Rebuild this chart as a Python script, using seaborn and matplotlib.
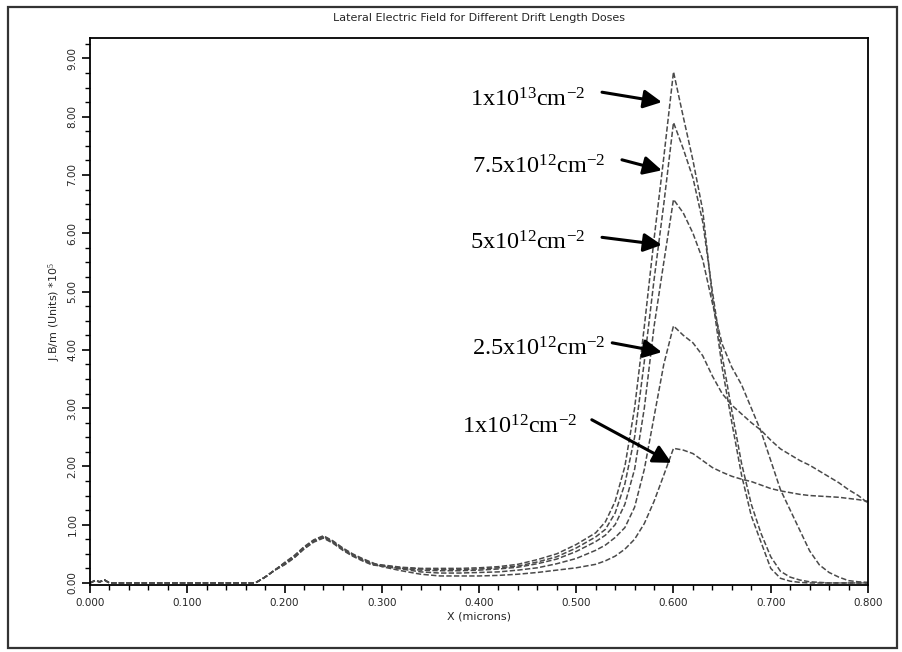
import numpy as np
import pandas as pd
import seaborn as sns
import matplotlib
matplotlib.use("Agg")
import matplotlib.pyplot as plt
from matplotlib.patches import Rectangle
from matplotlib.ticker import MultipleLocator, FormatStrFormatter

# ---------------- data ----------------
x_um = [0.000, 0.005, 0.010, 0.015, 0.020, 0.170, 0.180, 0.190, 0.200, 0.210,
        0.220, 0.230, 0.240, 0.250, 0.260, 0.270, 0.280, 0.290, 0.300, 0.320,
        0.340, 0.360, 0.380, 0.400, 0.420, 0.440, 0.460, 0.480, 0.500, 0.520,
        0.530, 0.540, 0.550, 0.560, 0.570, 0.580, 0.590, 0.600, 0.610, 0.620,
        0.630, 0.640, 0.650, 0.660, 0.670, 0.680, 0.690, 0.700, 0.710, 0.720,
        0.730, 0.740, 0.750, 0.760, 0.770, 0.780, 0.790, 0.800]

common_head = [0.00, 0.04, 0.02, 0.05, 0.00, 0.00, 0.10, 0.22, 0.33, 0.45,
               0.60, 0.72, 0.79, 0.70, 0.58, 0.48, 0.40, 0.33]

field_1e13 = common_head + [
    0.31, 0.27, 0.25, 0.25, 0.25, 0.26, 0.28, 0.32, 0.40, 0.50, 0.66, 0.86,
    1.05, 1.40, 2.00, 3.00, 4.40, 5.90, 7.30, 8.77, 8.00, 7.25, 6.40, 4.90,
    3.70, 2.75, 1.85, 1.15, 0.70, 0.25, 0.08, 0.03, 0.01, 0.00, 0.00, 0.00,
    0.00, 0.00, 0.00, 0.00]
field_7p5e12 = [v - 0.01 if v > 0.3 else v for v in common_head] + [
    0.30, 0.26, 0.24, 0.23, 0.23, 0.24, 0.26, 0.29, 0.36, 0.45, 0.60, 0.79,
    0.92, 1.20, 1.70, 2.50, 3.80, 5.20, 6.50, 7.90, 7.45, 6.95, 6.20, 5.00,
    3.90, 2.95, 2.05, 1.35, 0.85, 0.45, 0.20, 0.10, 0.05, 0.02, 0.01, 0.00,
    0.00, 0.00, 0.00, 0.00]
field_5e12 = [v + 0.01 if v > 0.3 else v for v in common_head] + [
    0.29, 0.25, 0.22, 0.21, 0.21, 0.22, 0.24, 0.27, 0.33, 0.41, 0.54, 0.71,
    0.82, 1.00, 1.35, 1.95, 3.00, 4.40, 5.50, 6.58, 6.35, 6.00, 5.55, 4.80,
    4.10, 3.70, 3.40, 3.00, 2.60, 2.10, 1.60, 1.25, 0.90, 0.55, 0.31, 0.18,
    0.10, 0.04, 0.02, 0.01]
field_2p5e12 = [v - 0.02 if v > 0.3 else v for v in common_head] + [
    0.29, 0.24, 0.19, 0.17, 0.17, 0.18, 0.19, 0.22, 0.26, 0.33, 0.42, 0.56,
    0.65, 0.78, 0.95, 1.30, 1.95, 2.85, 3.75, 4.41, 4.25, 4.12, 3.90, 3.55,
    3.25, 3.05, 2.90, 2.75, 2.62, 2.45, 2.30, 2.20, 2.10, 2.02, 1.92, 1.82,
    1.72, 1.60, 1.50, 1.37]
field_1e12 = [v + 0.02 if v > 0.3 else v for v in common_head] + [
    0.28, 0.21, 0.15, 0.12, 0.12, 0.12, 0.13, 0.15, 0.18, 0.22, 0.26, 0.32,
    0.38, 0.46, 0.58, 0.75, 1.02, 1.40, 1.85, 2.31, 2.28, 2.22, 2.10, 1.98,
    1.90, 1.83, 1.78, 1.74, 1.68, 1.62, 1.58, 1.55, 1.52, 1.50, 1.49, 1.48,
    1.47, 1.45, 1.43, 1.40]

doses = ["1e13", "7.5e12", "5e12", "2.5e12", "1e12"]
dose_labels = ["1x10$^{13}$cm$^{-2}$", "7.5x10$^{12}$cm$^{-2}$",
               "5x10$^{12}$cm$^{-2}$", "2.5x10$^{12}$cm$^{-2}$",
               "1x10$^{12}$cm$^{-2}$"]
series = [field_1e13, field_7p5e12, field_5e12, field_2p5e12, field_1e12]

x_ticks = [0.0, 0.1, 0.2, 0.3, 0.4, 0.5, 0.6, 0.7, 0.8]
y_ticks = [0, 1, 2, 3, 4, 5, 6, 7, 8, 9]

# annotation geometry (data coords): text right/centre, arrow start, arrow tip
label_pos = [(0.509, 8.28), (0.530, 7.14), (0.509, 5.83), (0.530, 4.01), (0.501, 2.68)]
arrow_start = [(0.5265, 8.42), (0.547, 7.26), (0.5265, 5.93), (0.537, 4.12), (0.516, 2.80)]
arrow_tip = [(0.588, 8.25), (0.588, 7.08), (0.588, 5.80), (0.588, 3.96), (0.598, 2.06)]

# ---------------- build table ----------------
frames = []
for d, ys in zip(doses, series):
    frames.append(pd.DataFrame({"x": x_um, "y": ys, "dose": d}))
df = pd.concat(frames, ignore_index=True)

# ---------------- style ----------------
sns.set_style("ticks")
plt.rcParams["font.family"] = ["DejaVu Sans"]
plt.rcParams["mathtext.fontset"] = "custom"
plt.rcParams["mathtext.rm"] = "Liberation Serif"
plt.rcParams["mathtext.it"] = "Liberation Serif:italic"
plt.rcParams["mathtext.bf"] = "Liberation Serif:bold"

fig = plt.figure(figsize=(9.03, 6.52), dpi=100)
fig.patch.set_facecolor("white")
ax = fig.add_axes([90 / 903, 1 - 585 / 652, (868 - 90) / 903, (585 - 38) / 652])

sns.lineplot(data=df, x="x", y="y", hue="dose", hue_order=doses,
             palette=["#4a4a4a"] * len(doses), estimator=None, sort=False,
             legend=False, ax=ax, linewidth=1.1)
for ln in ax.get_lines():
    ln.set_linestyle((0, (3.5, 1.5)))

ax.set_xlim(0.0, 0.8)
ax.set_ylim(-0.035, 9.35)
ax.set_xticks(x_ticks)
ax.set_yticks(y_ticks)
ax.xaxis.set_major_formatter(FormatStrFormatter("%.3f"))
ax.yaxis.set_major_formatter(FormatStrFormatter("%.2f"))
ax.xaxis.set_minor_locator(MultipleLocator(0.02))
ax.yaxis.set_minor_locator(MultipleLocator(0.25))
ax.tick_params(axis="both", which="major", direction="out", length=6, width=1.2,
               color="black", labelsize=7.5, pad=3)
ax.tick_params(axis="both", which="minor", direction="out", length=3.5, width=1.0,
               color="black")
for lab in ax.get_yticklabels():
    lab.set_rotation(90)
    lab.set_va("center")
for sp in ax.spines.values():
    sp.set_visible(True)
    sp.set_color("black")
    sp.set_linewidth(1.3)

ax.set_xlabel("X (microns)", fontsize=8, labelpad=3)
ax.set_ylabel("J.B/m (Units) *10$^{5}$", fontsize=8, labelpad=3,
              fontfamily="DejaVu Sans")
ax.set_title("Lateral Electric Field for Different Drift Length Doses",
             fontsize=8, pad=12)

for lbl, (tx, ty), (sx, sy), (hx, hy) in zip(dose_labels, label_pos, arrow_start, arrow_tip):
    ax.text(tx, ty, lbl, ha="right", va="center", fontsize=17.5,
            fontfamily="Liberation Serif", color="black")
    ax.annotate("", xy=(hx, hy), xytext=(sx, sy),
                arrowprops=dict(arrowstyle="-|>,head_length=0.55,head_width=0.28",
                                lw=2.2, color="black", shrinkA=0, shrinkB=0,
                                mutation_scale=20))

# outer frame around the whole figure
fig.patches.append(Rectangle((8 / 903, 1 - 648 / 652), (897 - 8) / 903, (648 - 7) / 652,
                             transform=fig.transFigure, fill=False,
                             edgecolor="#333333", linewidth=1.6))

fig.savefig("out.png", dpi=100)
